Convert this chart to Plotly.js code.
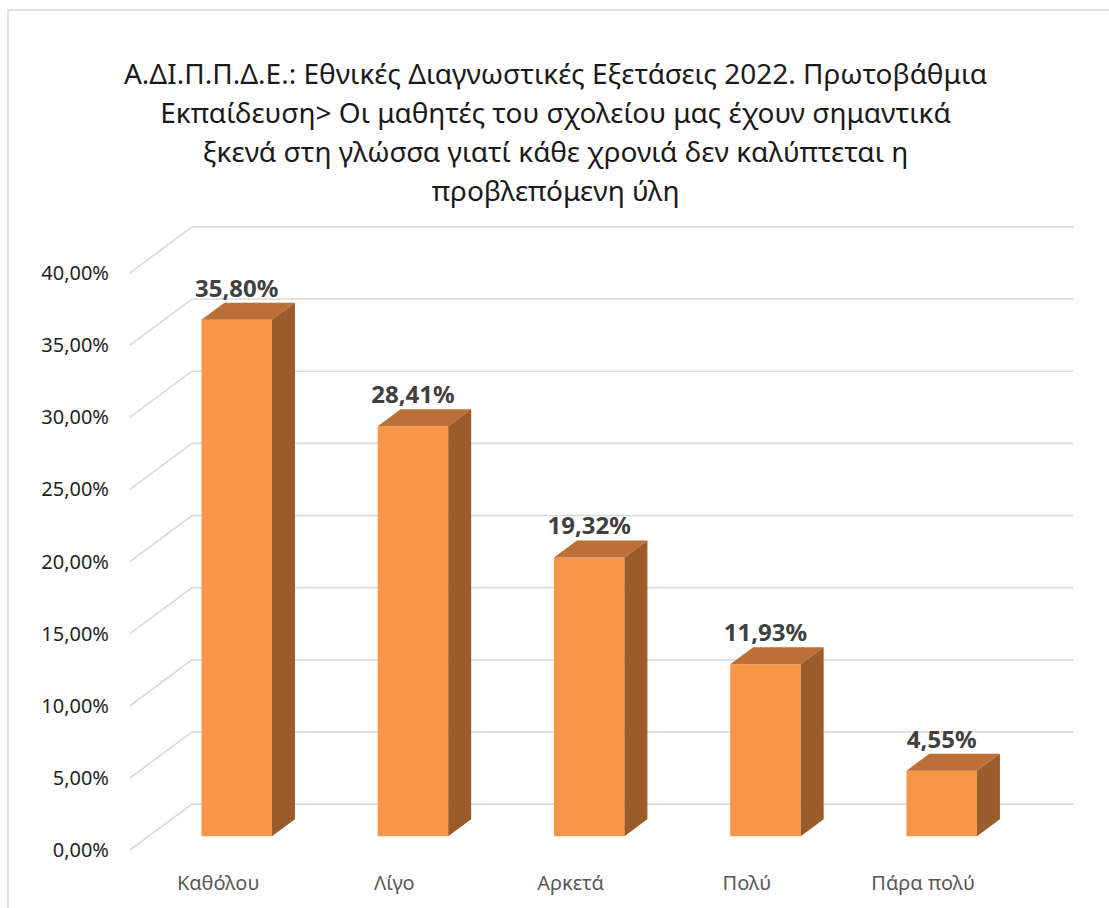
<!DOCTYPE html>
<html><head><meta charset="utf-8">
<script src="https://cdn.plot.ly/plotly-3.0.1.min.js"></script>
<style>html,body{margin:0;padding:0;background:#fff}#chart{width:1109px;height:908px}</style>
</head><body><div id="chart"></div>
<script>
// ---- data ----
const categories = ['Καθόλου', 'Λίγο', 'Αρκετά', 'Πολύ', 'Πάρα πολύ'];
const values = [0.3580, 0.2841, 0.1932, 0.1193, 0.0455];
const tickValues = [0, 0.05, 0.10, 0.15, 0.20, 0.25, 0.30, 0.35, 0.40];
const titleLines = [
  'Α.ΔΙ.Π.Π.Δ.Ε.: Εθνικές Διαγνωστικές Εξετάσεις 2022. Πρωτοβάθμια',
  'Εκπαίδευση> Οι μαθητές του σχολείου μας έχουν σημαντικά',
  'ξκενά στη γλώσσα γιατί κάθε χρονιά δεν καλύπτεται η',
  'προβλεπόμενη ύλη'
];

// ---- oblique 3D projection settings ----
const W = 1109, H = 908;
const pxPerCat = 176.2, pxPerUnit = 1443;
const plotLeft = 130, floorY = 850;
const depthX = 62 / pxPerCat, depthY = 46 / pxPerUnit;
const frontD = 0.30, backD = 0.67, barW = 0.4;
const xr = [-0.5, categories.length - 0.5 + depthX + 0.01];
const yr = [-0.002, tickValues[tickValues.length - 1] + depthY + 0.002];
const plotW = (xr[1] - xr[0]) * pxPerCat, plotH = (yr[1] - yr[0]) * pxPerUnit;
const mL = plotLeft, mR = W - plotLeft - plotW;
const mB = H - floorY - (0 - yr[0]) * pxPerUnit;
const mT = H - mB - plotH;

const idx = categories.map((c, i) => i);
const xs = idx.map(i => i + depthX * frontD);
const base = depthY * frontD;
const ddx = depthX * (backD - frontD), ddy = depthY * (backD - frontD);

// faces
const topX = [], topY = [], sideX = [], sideY = [];
values.forEach((v, i) => {
  const xl = xs[i] - barW / 2, xR = xs[i] + barW / 2, yt = v + base;
  topX.push(xl, xR, xR + ddx, xl + ddx, xl, null);
  topY.push(yt, yt, yt + ddy, yt + ddy, yt, null);
  sideX.push(xR, xR, xR + ddx, xR + ddx, xR, null);
  sideY.push(base, yt, yt + ddy, base + ddy, base, null);
});

// wall/floor gridlines as shapes below traces
const shapes = tickValues.map(t => ({
  type: 'path', xref: 'x', yref: 'y', layer: 'below',
  path: 'M' + xr[0] + ',' + t + ' L' + (xr[0] + depthX) + ',' + (t + depthY) +
        ' L' + (categories.length - 0.5 + depthX) + ',' + (t + depthY),
  line: {color: '#D9D9D9', width: 1.6}
}));
// chart frame
shapes.push({
  type: 'rect', xref: 'paper', yref: 'paper', layer: 'below',
  x0: (8 - mL) / plotW, x1: (1120 - mL) / plotW,
  y0: (H - mB - 920) / plotH, y1: (H - mB - 10) / plotH,
  line: {color: '#D9D9D9', width: 1.5}, fillcolor: 'rgba(0,0,0,0)'
});

const fmt = v => (v * 100).toFixed(2).replace('.', ',') + '%';

const traces = [
  {type: 'bar', x: xs, y: values, base: values.map(() => base), width: barW,
   marker: {color: '#F79646', line: {width: 0}}, hoverinfo: 'skip', showlegend: false},
  {type: 'scatter', mode: 'none', x: topX, y: topY, fill: 'toself',
   fillcolor: '#BC7038', hoverinfo: 'skip', showlegend: false},
  {type: 'scatter', mode: 'none', x: sideX, y: sideY, fill: 'toself',
   fillcolor: '#9B5C2B', hoverinfo: 'skip', showlegend: false},
  {type: 'scatter', mode: 'text', x: xs, y: values.map(v => v + depthY * backD),
   text: values.map(fmt), textposition: 'top center', cliponaxis: false,
   textfont: {family: 'Noto Sans', size: 24, color: '#404040', weight: 'bold'},
   hoverinfo: 'skip', showlegend: false}
];

const layout = {
  width: W, height: H, autosize: false,
  margin: {l: mL, r: mR, t: mT, b: mB, pad: 0},
  paper_bgcolor: '#ffffff', plot_bgcolor: 'rgba(0,0,0,0)',
  separators: ',.',
  hovermode: false, showlegend: false,
  title: {
    text: titleLines.map(l => '<span style="font-size:28px">' + l + '</span>').join('<br>'),
    font: {family: 'Noto Sans', size: 30, color: '#1a1a1a'},
    x: 0.501, xref: 'container', xanchor: 'center',
    y: 1 - 84 / H, yref: 'container', yanchor: 'top'
  },
  xaxis: {
    range: xr, tickvals: idx, ticktext: categories,
    showgrid: false, zeroline: false, showline: false, ticks: '',
    ticklabelstandoff: 16, fixedrange: true,
    tickfont: {family: 'Noto Sans', size: 20, color: '#595959'}
  },
  yaxis: {
    range: yr, tickvals: tickValues, tickformat: '.2%',
    showgrid: false, zeroline: false, showline: false, ticks: '',
    ticklabelstandoff: 20, fixedrange: true,
    tickfont: {family: 'Noto Sans', size: 20, color: '#1f1f1f'}
  },
  shapes: shapes
};

Plotly.newPlot('chart', traces, layout, {displayModeBar: false, staticPlot: true});
</script>
</body></html>
